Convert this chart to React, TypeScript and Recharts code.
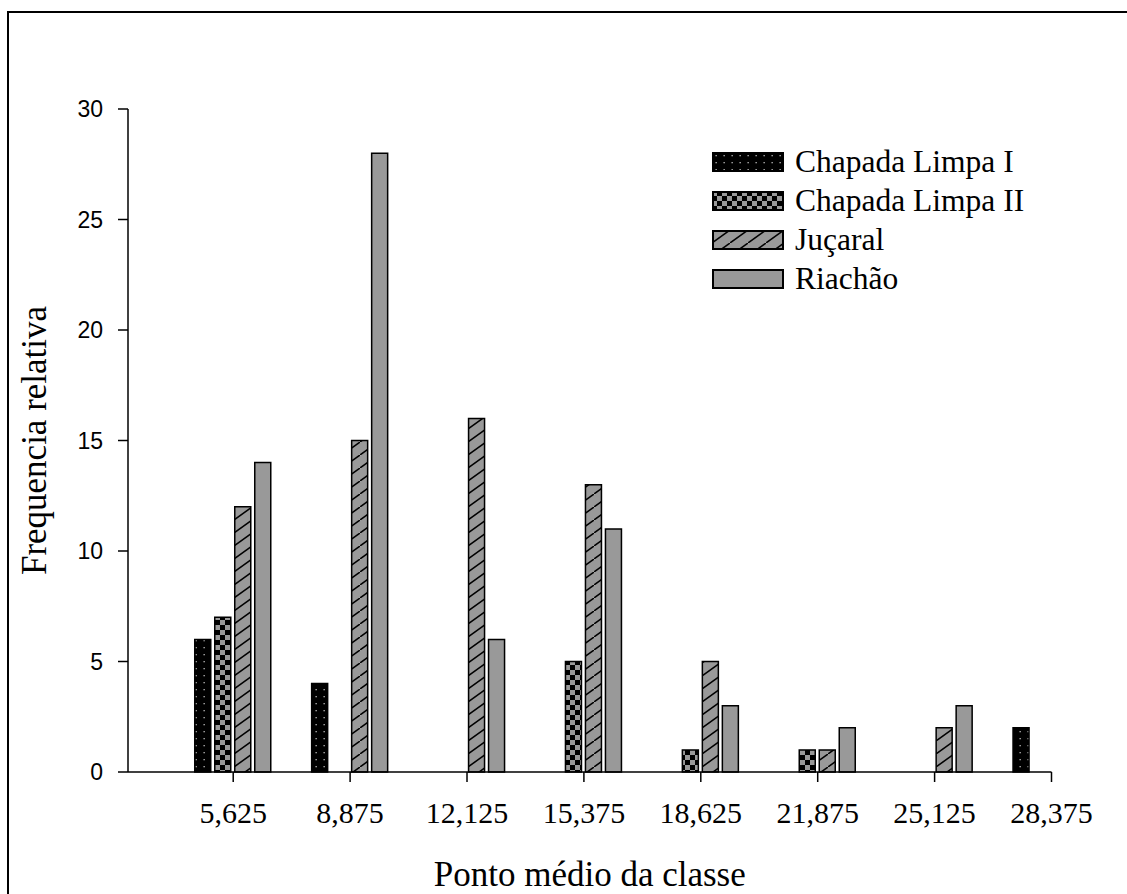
import React from 'react';
import { BarChart, Bar, XAxis, YAxis, Legend, Label } from 'recharts';

const classMidpoints = [5.625, 8.875, 12.125, 15.375, 18.625, 21.875, 25.125, 28.375];
const chapadaLimpaI = [6, 4, null, null, null, null, null, 2];
const chapadaLimpaII = [7, null, null, 5, 1, 1, null, null];
const jucaral = [12, 15, 16, 13, 5, 1, 2, null];
const riachao = [14, 28, 6, 11, 3, 2, 3, null];
const yTicks = [0, 5, 10, 15, 20, 25, 30];
const seriesNames = ['Chapada Limpa I', 'Chapada Limpa II', 'Juçaral', 'Riachão'];

const data = classMidpoints.map((x, i) => ({
  x,
  cl1: chapadaLimpaI[i],
  cl2: chapadaLimpaII[i],
  juc: jucaral[i],
  ria: riachao[i],
}));

const SERIF = '"Liberation Serif", "Times New Roman", serif';
const SANS = '"Liberation Sans", Arial, sans-serif';
const GRAY = '#999999';

const fmt = (v: number) => v.toFixed(3).replace('.', ',');

const renderLegend = (props: any) => {
  const payload = props.payload || [];
  return (
    <div style={{ display: 'flex', flexDirection: 'column' }}>
      {payload.map((entry: any, i: number) => (
        <div key={i} style={{ display: 'flex', alignItems: 'center', height: 39 }}>
          <svg width={72} height={20} style={{ display: 'block' }}>
            <rect x={1} y={1} width={70} height={18} fill={entry.color} stroke="#000" strokeWidth={2} />
          </svg>
          <span style={{ marginLeft: 11, fontFamily: SERIF, fontSize: 31.5, lineHeight: 1, color: '#000', whiteSpace: 'nowrap' }}>
            {entry.value}
          </span>
        </div>
      ))}
    </div>
  );
};

export default function App() {
  return (
    <div style={{ position: 'absolute', left: 0, top: 0, width: 1127, height: 894, overflow: 'hidden', background: '#fff' }}>
      <svg width={0} height={0} style={{ position: 'absolute' }}>
        <defs>
          <pattern id="patDots" patternUnits="userSpaceOnUse" width={8} height={7}>
            <rect x={0} y={0} width={8} height={7} fill="#000" />
            <rect x={3.5} y={3} width={1.3} height={1.3} fill="#bbb" />
          </pattern>
          <pattern id="patCheck" patternUnits="userSpaceOnUse" width={10} height={10}>
            <rect x={0} y={0} width={10} height={10} fill="#000" />
            <rect x={0} y={0} width={5} height={5} fill={GRAY} />
            <rect x={5} y={5} width={5} height={5} fill={GRAY} />
          </pattern>
          <pattern id="patHatch" patternUnits="userSpaceOnUse" width={18} height={13}>
            <rect x={0} y={0} width={18} height={13} fill={GRAY} />
            <path d="M-2,14.44 L20,-1.44" stroke="#000" strokeWidth={1.5} />
          </pattern>
        </defs>
      </svg>
      <div style={{ position: 'absolute', left: 7, top: 11, width: 1300, height: 1100, border: '2px solid #000', boxSizing: 'border-box' }} />
      <div style={{ position: 'absolute', left: 0, top: 0 }}>
        <BarChart
          width={1127}
          height={894}
          data={data}
          margin={{ top: 109, right: 75.5, bottom: 62, left: 48 }}
          barSize={16}
          barGap={4}
        >
          <XAxis
            dataKey="x"
            type="number"
            domain={[2.7, 28.375]}
            ticks={classMidpoints}
            tickFormatter={fmt}
            interval={0}
            height={60}
            tickSize={10}
            tickMargin={20}
            axisLine={{ stroke: '#000', strokeWidth: 1.5 }}
            tickLine={{ stroke: '#000', strokeWidth: 1.5 }}
            tick={{ fill: '#000', fontSize: 30, fontFamily: SERIF }}
          >
            <Label
              value="Ponto médio da classe"
              position="bottom"
              offset={29}
              style={{ fontFamily: SERIF, fontSize: 35, fill: '#000' }}
            />
          </XAxis>
          <YAxis
            type="number"
            domain={[0, 30]}
            ticks={yTicks}
            interval={0}
            width={80}
            tickSize={10}
            tickMargin={15}
            axisLine={{ stroke: '#000', strokeWidth: 1.5 }}
            tickLine={{ stroke: '#000', strokeWidth: 1.5 }}
            tick={{ fill: '#000', fontSize: 23, fontFamily: SANS }}
          >
            <Label
              value="Frequencia relativa"
              angle={-90}
              position="insideLeft"
              offset={-14}
              style={{ fontFamily: SERIF, fontSize: 35, fill: '#000', textAnchor: 'middle' }}
            />
          </YAxis>
          <Legend
            layout="vertical"
            align="center"
            verticalAlign="middle"
            content={renderLegend}
            wrapperStyle={{ left: 712, top: 142, width: 'auto', height: 'auto' }}
          />
          <Bar dataKey="cl1" name={seriesNames[0]} fill="url(#patDots)" stroke="#000" strokeWidth={1.5} isAnimationActive={false} />
          <Bar dataKey="cl2" name={seriesNames[1]} fill="url(#patCheck)" stroke="#000" strokeWidth={1.5} isAnimationActive={false} />
          <Bar dataKey="juc" name={seriesNames[2]} fill="url(#patHatch)" stroke="#000" strokeWidth={1.5} isAnimationActive={false} />
          <Bar dataKey="ria" name={seriesNames[3]} fill={GRAY} stroke="#000" strokeWidth={1.5} isAnimationActive={false} />
        </BarChart>
      </div>
    </div>
  );
}
